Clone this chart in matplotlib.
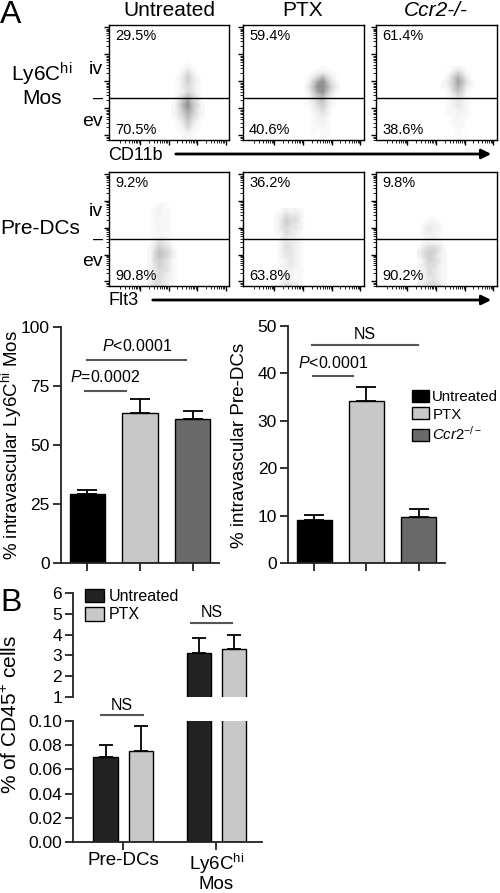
import numpy as np
import matplotlib
matplotlib.use("Agg")
import matplotlib.pyplot as plt
from matplotlib.patches import Patch

plt.rcParams['font.family'] = ['Liberation Sans', 'DejaVu Sans']
plt.rcParams['mathtext.fontset'] = 'custom'
plt.rcParams['mathtext.rm'] = 'Liberation Sans'
plt.rcParams['mathtext.it'] = 'Liberation Sans:italic'
plt.rcParams['mathtext.bf'] = 'Liberation Sans:bold'

# ---------------- DATA ----------------
conditions = ["Untreated", "PTX", "Ccr2-/-"]
mos_pct_iv = ["29.5%", "59.4%", "61.4%"]
mos_pct_ev = ["70.5%", "40.6%", "38.6%"]
dc_pct_iv = ["9.2%", "36.2%", "9.8%"]
dc_pct_ev = ["90.8%", "63.8%", "90.2%"]

# density maps of the dot clouds (rows top->bottom)
mos_clouds = [
    ["0001000", "0012100", "0024200", "0135310", "0135320", "0134310", "0124310",
     "0246420", "0368530", "1479641", "1368631", "1357531", "0246420", "0135310",
     "0124210", "0012100", "0011100"],
    ["00001000", "00123210", "01357420", "02589631", "03699742", "02589631",
     "01467420", "01356310", "01245310", "00234200", "00123200", "00122100",
     "00112100", "00111100", "00101100", "00011000"],
    ["0012100", "0135310", "0257520", "1358631", "1257521", "0146410", "0124310",
     "0123210", "0123210", "0112210", "0112110", "0011100", "0011100", "0001100",
     "0001000", "0001100"],
]
mos_cloud_x0 = [0.52, 0.48, 0.54]
dc_clouds = [
    ["0011000", "0121100", "0121100", "0111100", "0111100", "0121100", "0111100",
     "0122100", "0243200", "1354310", "1465420", "1465420", "1454310", "1354310",
     "1344310", "1343210", "1343210", "2443210"],
    ["0121210", "1243320", "1354420", "1354320", "1343320", "1243210", "0232210",
     "0233210", "0243210", "0233210", "0233210", "0123210", "0123210", "0122110",
     "0122110", "0122110", "1233210"],
    ["001100", "012210", "023220", "022210", "012210", "012110", "134431",
     "245531", "245421", "135431", "134421", "124321", "124321", "123321", "234431"],
]
dc_cloud_x0 = [0.32, 0.26, 0.34]
mos_gate = 0.365
dc_gate = 0.41

# Panel A bar charts
a_groups = ["Untreated", "PTX", "Ccr2-/-"]
a_mos_mean = [29.3, 63.6, 61.1]
a_mos_sem = [1.8, 6.0, 3.3]
a_dc_mean = [9.1, 34.2, 9.8]
a_dc_sem = [1.0, 3.0, 1.6]
a_colors = ["#000000", "#c8c8c8", "#6a6a6a"]

# Panel B
b_cells = ["Pre-DCs", "Ly6C$^{\\mathrm{hi}}$\nMos"]
b_untreated = [0.070, 3.12]
b_untreated_sem = [0.010, 0.72]
b_ptx = [0.0755, 3.33]
b_ptx_sem = [0.0205, 0.65]
b_colors = ["#222222", "#c8c8c8"]

# ---------------- FIGURE ----------------
W, H = 500, 893
fig = plt.figure(figsize=(W / 100, H / 100), dpi=100)


def ax_px(l, t, r, b):
    return fig.add_axes([l / W, 1 - b / H, (r - l) / W, (b - t) / H])


def fx(x):
    return x / W


def fy(y):
    return 1 - y / H


# log-like tick positions for flow plots
def log_ticks(first_major, step, n):
    majors = [first_major + step * k for k in range(n)]
    minors = []
    for m in majors:
        for k in range(2, 10):
            p = m - step * (1 - np.log10(k))
            if 0 <= p <= 1:
                minors.append(p)
    return majors, minors


xmaj, xmin_ = log_ticks(0.26, 0.237, 4)
ymaj, ymin_ = log_ticks(0.04, 0.235, 5)

cols_x = [(109, 229), (243, 364), (376, 497)]
rows_y = [(25, 140), (172, 286)]
cell = 0.04


def flow_panel(l, t, r, b, grid, x0, gate, top_lbl, bot_lbl):
    ax = ax_px(l, t, r, b)
    arr = np.array([[int(c) for c in row] for row in grid], dtype=float)
    nr, nc = arr.shape
    ax.imshow(arr, cmap='Greys', vmin=0, vmax=17, interpolation='bilinear',
              extent=[x0, x0 + nc * cell, 0, nr * cell], aspect='auto', zorder=1)
    ax.set_xlim(0, 1)
    ax.set_ylim(0, 1)
    ax.axhline(gate, color='black', lw=1.0, zorder=3)
    ax.set_xticks(xmaj)
    ax.set_xticks(xmin_, minor=True)
    ax.set_yticks(ymaj)
    ax.set_yticks(ymin_, minor=True)
    ax.tick_params(which='major', length=3.5, width=1, labelbottom=False, labelleft=False)
    ax.tick_params(which='minor', length=2, width=0.6)
    for s in ax.spines.values():
        s.set_linewidth(1.0)
    ax.text(0.05, 0.9, top_lbl, transform=ax.transAxes, fontsize=10.5, va='center', ha='left')
    ax.text(0.05, 0.09, bot_lbl, transform=ax.transAxes, fontsize=10.5, va='center', ha='left')
    return ax


for i in range(3):
    l, r = cols_x[i]
    flow_panel(l, rows_y[0][0], r, rows_y[0][1], mos_clouds[i], mos_cloud_x0[i], mos_gate,
               mos_pct_iv[i], mos_pct_ev[i])
    flow_panel(l, rows_y[1][0], r, rows_y[1][1], dc_clouds[i], dc_cloud_x0[i], dc_gate,
               dc_pct_iv[i], dc_pct_ev[i])

# column titles
title_x = [169, 303, 436]
fig.text(fx(title_x[0]), fy(10), "Untreated", fontsize=15, ha='center', va='center')
fig.text(fx(title_x[1]), fy(10), "PTX", fontsize=15, ha='center', va='center')
fig.text(fx(title_x[2]), fy(10), "Ccr2-/-", fontsize=15, ha='center', va='center', style='italic')
fig.text(fx(0), fy(0), "A", fontsize=23, ha='left', va='top')

# row labels
fig.text(fx(42), fy(74), "Ly6C$^{\\mathrm{hi}}$", fontsize=15, ha='center', va='center')
fig.text(fx(42), fy(98), "Mos", fontsize=15, ha='center', va='center')
fig.text(fx(0), fy(229), "Pre-DCs", fontsize=15, ha='left', va='center')
for yiv, ydash, yev in [(70, 98, 121), (211, 239, 262)]:
    fig.text(fx(103), fy(yiv), "iv", fontsize=14, ha='right', va='center')
    fig.text(fx(103), fy(ydash), "–", fontsize=13, ha='right', va='center')
    fig.text(fx(103), fy(yev), "ev", fontsize=14, ha='right', va='center')

# axis arrows
fig.text(fx(108), fy(155), "CD11b", fontsize=13, ha='left', va='center')
fig.add_artist(matplotlib.patches.FancyArrowPatch((fx(173), fy(154)), (fx(494), fy(154)),
               transform=fig.transFigure, arrowstyle='-|>', mutation_scale=14, lw=2.0, color='black'))
fig.text(fx(108), fy(300), "Flt3", fontsize=13, ha='left', va='center')
fig.add_artist(matplotlib.patches.FancyArrowPatch((fx(150), fy(300)), (fx(494), fy(300)),
               transform=fig.transFigure, arrowstyle='-|>', mutation_scale=14, lw=2.0, color='black'))


def style_bar_axes(ax):
    for s in ['top', 'right']:
        ax.spines[s].set_visible(False)
    for s in ['left', 'bottom']:
        ax.spines[s].set_linewidth(1.3)
        ax.spines[s].set_color('#222222')
    ax.tick_params(axis='both', length=6, width=1.3, color='#222222', labelsize=12.5, pad=2)


def sig(ax, x1, x2, y, txt, ty):
    ax.plot([x1, x2], [y, y], color='#555555', lw=1.5, clip_on=False)
    ax.text((x1 + x2) / 2, ty, txt, fontsize=11.5, ha='center', va='center', clip_on=False)


# Panel A bar 1
ax1 = ax_px(61, 327, 219, 563)
xs = np.arange(3)
ax1.bar(xs, a_mos_mean, width=0.67, color=a_colors, edgecolor='black', lw=1.0, zorder=2)
ax1.errorbar(xs, a_mos_mean, yerr=[[0] * 3, a_mos_sem], fmt='none', ecolor='black',
             capsize=7, elinewidth=1.3, capthick=1.3, zorder=1)
ax1.set_xlim(-0.5, 2.5)
ax1.set_ylim(0, 100)
ax1.set_yticks([0, 25, 50, 75, 100])
ax1.set_xticks(xs)
ax1.set_xticklabels([])
style_bar_axes(ax1)
sig(ax1, -0.05, 0.73, 73, "$\\mathit{P}$=0.0002", 79)
sig(ax1, 0.0, 1.88, 86, "$\\mathit{P}$<0.0001", 92)
fig.text(fx(12), fy(445), "% intravascular Ly6C$^{\\mathrm{hi}}$ Mos", fontsize=13.5,
         rotation=90, ha='center', va='center')

# Panel A bar 2
ax2 = ax_px(288, 326, 445, 563)
ax2.bar(xs, a_dc_mean, width=0.67, color=a_colors, edgecolor='black', lw=1.0, zorder=2)
ax2.errorbar(xs, a_dc_mean, yerr=[[0] * 3, a_dc_sem], fmt='none', ecolor='black',
             capsize=7, elinewidth=1.3, capthick=1.3, zorder=1)
ax2.set_xlim(-0.5, 2.5)
ax2.set_ylim(0, 50)
ax2.set_yticks([0, 10, 20, 30, 40, 50])
ax2.set_xticks(xs)
ax2.set_xticklabels([])
style_bar_axes(ax2)
sig(ax2, -0.02, 0.75, 39.5, "$\\mathit{P}$<0.0001", 42.2)
sig(ax2, -0.05, 1.99, 46.0, "NS", 48.3)
fig.text(fx(240), fy(445), "% intravascular Pre-DCs", fontsize=13.5,
         rotation=90, ha='center', va='center')
handles = [Patch(facecolor=c, edgecolor='black', lw=1.0) for c in a_colors]
fig.legend(handles, ["Untreated", "PTX", "$\\mathit{Ccr2}^{-/-}$"], loc='upper left',
           bbox_to_anchor=(fx(412), fy(390)), frameon=False, fontsize=10.8,
           handlelength=1.1, handleheight=0.85, handletextpad=0.25, labelspacing=0.22,
           borderaxespad=0, borderpad=0)

# Panel B
fig.text(fx(0), fy(603), "B", fontsize=23, ha='left', va='center')
bx = np.arange(2)
off = 0.19
bw = 0.26
axu = ax_px(73, 593, 262, 697)
axl = ax_px(73, 721, 262, 842)
for ax in (axu, axl):
    ax.bar(bx - off, b_untreated, width=bw, color=b_colors[0], edgecolor='black', lw=1.0, zorder=2)
    ax.bar(bx + off, b_ptx, width=bw, color=b_colors[1], edgecolor='black', lw=1.0, zorder=2)
    ax.errorbar(bx - off, b_untreated, yerr=[[0, 0], b_untreated_sem], fmt='none', ecolor='black',
                capsize=5, elinewidth=1.3, capthick=1.3, zorder=1)
    ax.errorbar(bx + off, b_ptx, yerr=[[0, 0], b_ptx_sem], fmt='none', ecolor='black',
                capsize=5, elinewidth=1.3, capthick=1.3, zorder=1)
    ax.set_xlim(-0.54, 1.49)
    style_bar_axes(ax)
axu.set_ylim(1, 6)
axu.set_yticks([1, 2, 3, 4, 5, 6])
axu.spines['bottom'].set_visible(False)
axu.set_xticks([])
axl.set_ylim(0, 0.10)
axl.set_yticks([0.0, 0.02, 0.04, 0.06, 0.08, 0.10])
axl.set_yticklabels(["0.00", "0.02", "0.04", "0.06", "0.08", "0.10"])
axl.set_xticks(bx)
axl.set_xticklabels(b_cells, fontsize=13.5, linespacing=1.05)
axl.tick_params(axis='x', pad=1, labelsize=13.5)
sig(axu, 0.73, 1.17, 4.55, "NS", 5.05)
axl.plot([-0.24, 0.21], [0.105, 0.105], color='#555555', lw=1.5, clip_on=False)
axl.text(-0.015, 0.1125, "NS", fontsize=11.5, ha='center', va='center', clip_on=False)
fig.text(fx(11), fy(715), "% of CD45$^{+}$ cells", fontsize=15, rotation=90,
         ha='center', va='center')
bh = [Patch(facecolor=c, edgecolor='black', lw=1.0) for c in b_colors]
fig.legend(bh, ["Untreated", "PTX"], loc='upper left', bbox_to_anchor=(fx(85), fy(589)),
           frameon=False, fontsize=11.5, handlelength=1.2, handleheight=0.9,
           handletextpad=0.3, labelspacing=0.2, borderaxespad=0, borderpad=0)

fig.savefig("out.png", dpi=100)
